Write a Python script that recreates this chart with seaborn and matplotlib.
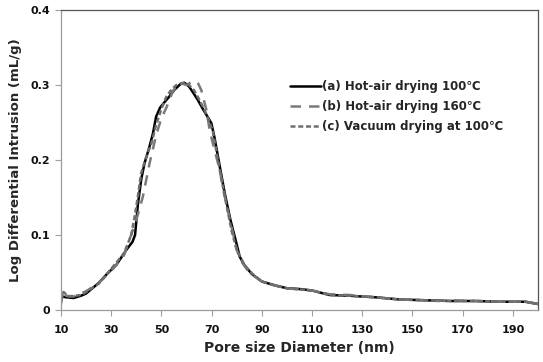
import numpy as np
import pandas as pd
import seaborn as sns
import matplotlib
matplotlib.use("Agg")
import matplotlib.pyplot as plt

# ---- data ----
xa = [10, 12, 15, 18, 20, 25, 28.6, 32, 36, 38.5, 39.5, 40.6, 42, 43.3, 45, 46.6, 47.9, 49.5, 51.2, 53,
      55, 57.5, 59.2, 61, 62.8, 64.5, 66.5, 68.5, 69.9, 71.2, 72.5, 75.2, 77.5, 79.2, 81.2, 83, 86, 90,
      95, 100, 105, 110, 117, 125, 135, 145, 155, 165, 175, 185, 195, 200]
ya = [0.018, 0.017, 0.016, 0.019, 0.022, 0.036, 0.049, 0.060, 0.080, 0.091, 0.100, 0.140, 0.175, 0.196,
      0.215, 0.235, 0.258, 0.270, 0.277, 0.284, 0.293, 0.301, 0.303, 0.298, 0.289, 0.280, 0.268, 0.257,
      0.249, 0.229, 0.205, 0.156, 0.120, 0.098, 0.071, 0.060, 0.048, 0.038, 0.033, 0.029, 0.028, 0.026,
      0.020, 0.019, 0.017, 0.014, 0.013, 0.012, 0.012, 0.011, 0.011, 0.008]

xb = [10, 10.8, 12, 15, 20, 25, 30, 35, 37.9, 40, 42.6, 45.3, 47.9, 49.9, 52, 54.6, 57.2, 60, 62.5, 64.5,
      65.9, 67.9, 69.2, 71, 73, 75, 78, 80, 82, 85, 90, 95, 100, 110, 117, 125, 135, 145, 155, 160, 165,
      175, 185, 195, 200]
yb = [0.008, 0.026, 0.019, 0.018, 0.025, 0.036, 0.052, 0.072, 0.100, 0.120, 0.151, 0.196, 0.233, 0.255,
      0.270, 0.292, 0.303, 0.300, 0.305, 0.303, 0.293, 0.267, 0.240, 0.215, 0.190, 0.155, 0.110, 0.080,
      0.064, 0.050, 0.038, 0.033, 0.029, 0.026, 0.021, 0.020, 0.017, 0.014, 0.013, 0.012, 0.013, 0.012,
      0.011, 0.011, 0.008]

xc = [10, 11, 13, 18, 20, 25, 30, 35, 38, 39.3, 40.6, 41.9, 43.5, 46, 48, 50, 51.9, 54, 56, 58.5, 61, 63,
      65, 67, 69, 70.5, 72.5, 75, 78, 80, 83, 86, 90, 95, 100, 110, 117, 125, 135, 145, 155, 165, 175,
      185, 195, 200]
yc = [0.012, 0.024, 0.018, 0.020, 0.024, 0.035, 0.055, 0.075, 0.100, 0.124, 0.151, 0.182, 0.200, 0.222,
      0.248, 0.268, 0.284, 0.294, 0.300, 0.303, 0.300, 0.293, 0.281, 0.268, 0.252, 0.238, 0.200, 0.155,
      0.105, 0.080, 0.060, 0.049, 0.038, 0.033, 0.029, 0.026, 0.020, 0.019, 0.017, 0.014, 0.013, 0.012,
      0.012, 0.011, 0.011, 0.008]

labels = ["(a) Hot-air drying 100\u2103", "(b) Hot-air drying 160\u2103", "(c) Vacuum drying at 100\u2103"]
xticks = [10, 30, 50, 70, 90, 110, 130, 150, 170, 190]
yticks = [0, 0.1, 0.2, 0.3, 0.4]
ytick_labels = ["0", "0.1", "0.2", "0.3", "0.4"]

sns.set_theme(style="white")
plt.rcParams["font.family"] = ["DejaVu Sans", "Noto Sans CJK KR"]

fig = plt.figure(figsize=(5.43, 3.62), dpi=100)
ax = fig.add_axes([61 / 543, 1 - 310 / 362, (538 - 61) / 543, 300 / 362])

sns.lineplot(x=xa, y=ya, ax=ax, color="black", linewidth=1.8, label=labels[0])
sns.lineplot(x=xb, y=yb, ax=ax, color="#7a7a7a", linewidth=1.8, label=labels[1])
ax.lines[-1].set_dashes((4.2, 3.2))
sns.lineplot(x=xc, y=yc, ax=ax, color="#6e6e6e", linewidth=1.8, label=labels[2])
ax.lines[-1].set_dashes((2.0, 1.1))
for ln in ax.lines:
    ln.set_solid_joinstyle("round")
    ln.set_dash_joinstyle("round")

ax.set_xlim(10, 200)
ax.set_ylim(0, 0.4)
ax.set_xticks(xticks)
ax.set_yticks(yticks)
ax.set_yticklabels(ytick_labels)
for t in ax.get_xticklabels() + ax.get_yticklabels():
    t.set_fontweight("bold")
    t.set_fontsize(8)
    t.set_color("#111111")
ax.tick_params(axis="both", which="both", direction="out", length=4, width=0.8,
               color="#a0a0a0", bottom=True, left=True, pad=4)
ax.tick_params(axis="x", pad=7)

for s in ["left", "bottom"]:
    ax.spines[s].set_color("#9a9a9a")
    ax.spines[s].set_linewidth(0.9)
for s in ["top", "right"]:
    ax.spines[s].set_color("#555555")
    ax.spines[s].set_linewidth(0.9)

ax.set_xlabel("Pore size Diameter (nm)", fontsize=10, fontweight="bold", labelpad=4)
ax.set_ylabel("Log Differential Intrusion (mL/g)", fontsize=9.5, fontweight="bold", labelpad=6)

leg = ax.legend(loc="upper left", bbox_to_anchor=(0.47, 0.782), frameon=False,
                prop={"weight": "bold", "size": 8.5}, handlelength=2.6, handletextpad=0.15,
                labelspacing=0.6, borderaxespad=0)

fig.savefig("out.png", dpi=100)
